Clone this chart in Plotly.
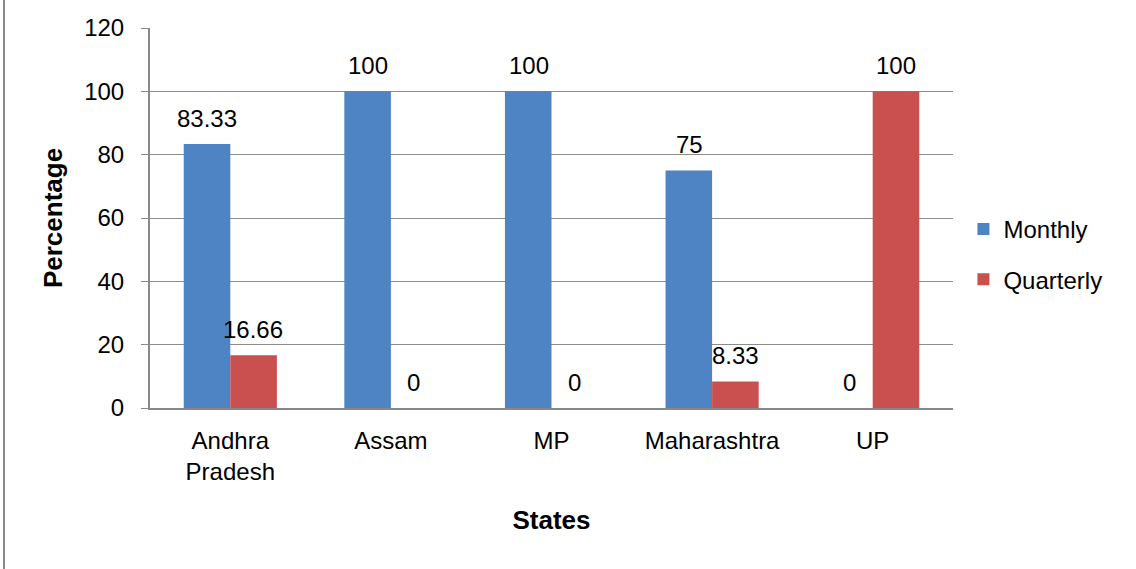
import plotly.graph_objects as go

states = ["Andhra<br>Pradesh", "Assam", "MP", "Maharashtra", "UP"]
monthly = [83.33, 100, 100, 75, 0]
quarterly = [16.66, 0, 0, 8.33, 100]
y_ticks = [0, 20, 40, 60, 80, 100, 120]

FONT = "Liberation Sans"
fig = go.Figure()
fig.add_trace(go.Bar(name="Monthly", x=states, y=monthly, legendgroup="m",
                     marker=dict(color="#4F84C4", line=dict(width=0))))
fig.add_trace(go.Bar(name="Quarterly", x=states, y=quarterly, legendgroup="q",
                     marker=dict(color="#C9504F", line=dict(width=0))))

anns = []
for s, v in zip(states, monthly):
    anns.append(dict(x=s, y=v, xref="x", yref="y", text=f"{v:g}", showarrow=False,
                     xshift=-23, yshift=26, font=dict(family=FONT, size=24, color="#000")))
for s, v in zip(states, quarterly):
    anns.append(dict(x=s, y=v, xref="x", yref="y", text=f"{v:g}", showarrow=False,
                     xshift=23, yshift=26, font=dict(family=FONT, size=24, color="#000")))

fig.update_layout(
    width=1136, height=569,
    margin=dict(l=150, r=183, t=28, b=161),
    paper_bgcolor="white", plot_bgcolor="white",
    barmode="group", bargap=0.42, bargroupgap=0,
    font=dict(family=FONT, size=24, color="#000"),
    annotations=anns,
    legend=dict(x=1.013, y=0.404, xanchor="left", yanchor="middle",
                font=dict(family=FONT, size=24), tracegroupgap=16,
                itemwidth=30, bgcolor="rgba(0,0,0,0)"),
    xaxis=dict(showline=True, linecolor="#888", linewidth=2, ticks="",
               tickfont=dict(family=FONT, size=24), ticklabelstandoff=10,
               title=dict(text="<b>States</b>", font=dict(family=FONT, size=26), standoff=27)),
    yaxis=dict(range=[0, 120], tickvals=y_ticks, showgrid=True, gridcolor="#8c8c8c", gridwidth=1,
               showline=True, linecolor="#888", linewidth=2, ticks="outside", ticklen=7,
               tickcolor="#888", tickfont=dict(family=FONT, size=24), zeroline=False,
               ticklabelstandoff=12,
               title=dict(text="<b>Percentage</b>", font=dict(family=FONT, size=26), standoff=14)),
    shapes=[dict(type="line", xref="paper", yref="paper", x0=-0.1818, x1=-0.1818,
                 y0=-0.43, y1=1.08, line=dict(color="#888", width=2))],
)
fig.write_html("out.html", config={"displayModeBar": False},
               post_script="document.body.style.margin='0';")
